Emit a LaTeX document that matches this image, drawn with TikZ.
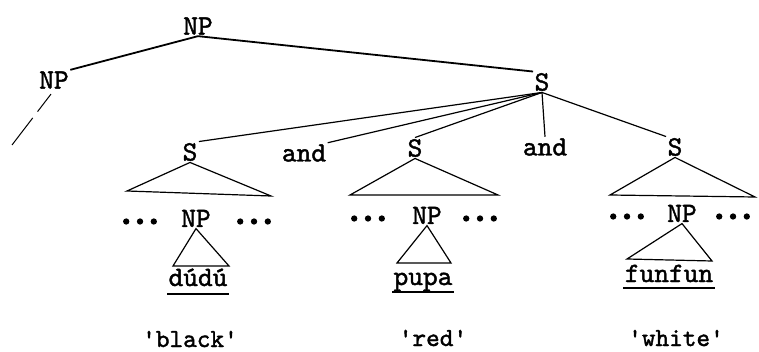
\documentclass[tikz,border=0pt]{standalone}
\usepackage{fontspec}
\newfontfamily\typew{lmmono10-regular}[Extension=.otf, FakeBold=1.5]
\newfontfamily\dotfont{lmmono10-regular}[Extension=.otf, FakeBold=3, LetterSpace=-18]
\begin{document}
\begin{tikzpicture}[x=1pt, y=-1pt, line width=1.2pt,
                    every node/.style={font=\typew\fontsize{28}{28}\selectfont, inner sep=1pt},
                    dots/.style={font=\dotfont\fontsize{40}{40}\selectfont, anchor=base, inner sep=0pt},
                    gloss/.style={font=\typew\fontsize{26}{26}\selectfont, anchor=base}]
        \useasboundingbox (0,0) rectangle (759,352);
        % Define nodes of the upper tree
        \node (NP0) at (198,26) {NP};
        \node (NP1) at (54,80) {NP};
        \node (S0) at (542,82) {S};
        \node (S1) at (190,152) {S};
        \node (and1) at (304,153) {and};
        \node (S2) at (415,148) {S};
        \node (and2) at (545,147) {and};
        \node (S3) at (675,147) {S};
        \coordinate (cut) at (12,145);

        % Define the rows under each S
        \node[dots] (La) at (140,224) {...};
        \node[anchor=base] (NPa) at (196,227) {NP};
        \node[dots] (Ra) at (254,224) {...};
        \node[dots] (Lb) at (368,221) {...};
        \node[anchor=base] (NPb) at (427,224) {NP};
        \node[dots] (Rb) at (480,221) {...};
        \node[dots] (Lc) at (627,219) {...};
        \node[anchor=base] (NPc) at (682,222) {NP};
        \node[dots] (Rc) at (733,219) {...};

        % Define words and glosses
        \node[anchor=base] (Wa) at (198,286) {dúdú};
        \node[anchor=base] (Wb) at (423,285) {pupa};
        \node[anchor=base] (Wc) at (669,282) {funfun};
        \node[gloss] (Ga) at (190,347) {\textquotesingle black\textquotesingle};
        \node[gloss] (Gb) at (433,346) {\textquotesingle red\textquotesingle};
        \node[gloss] (Gc) at (676,346) {\textquotesingle white\textquotesingle};

        % Define corners of the triangles
        \coordinate (Ta1) at (127,191);
        \coordinate (Ta2) at (271,196);
        \coordinate (Tb1) at (350,195);
        \coordinate (Tb2) at (498,195);
        \coordinate (Tc1) at (610,195);
        \coordinate (Tc2) at (755,197);
        \coordinate (Ua1) at (173,266);
        \coordinate (Ua2) at (229,266);
        \coordinate (Ub1) at (397,263);
        \coordinate (Ub2) at (451,263);
        \coordinate (Uc1) at (627,259);
        \coordinate (Uc2) at (712,261);

        % Define connections
        \draw[line width=1.8pt] (NP0.south) -- (NP1.north east);
        \draw[line width=1.8pt] (NP0.south) -- (S0.north west);
        \draw[line width=1pt, dash pattern=on 22pt off 8pt on 40pt off 8pt, shorten <=5pt] (NP1.south) -- (cut);
        \draw (S0.south) -- (S1.north east);
        \draw (S0.south) -- (and1.north east);
        \draw (S0.south) -- (S2.north);
        \draw (S0.south) -- (and2.north);
        \draw (S0.south) -- (S3.north west);

        % Triangles
        \draw (S1.south) -- (Ta1) -- (Ta2) -- cycle;
        \draw (S2.south) -- (Tb1) -- (Tb2) -- cycle;
        \draw (S3.south) -- (Tc1) -- (Tc2) -- cycle;
        \draw (NPa.south) -- (Ua1) -- (Ua2) -- cycle;
        \draw (NPb.south) -- (Ub1) -- (Ub2) -- cycle;
        \draw (NPc.south) -- (Uc1) -- (Uc2) -- cycle;

        % Underlines
        \draw[line width=2.5pt] ([yshift=-8pt]Wa.base west) -- ([yshift=-8pt]Wa.base east);
        \draw[line width=2.5pt] ([yshift=-7pt]Wb.base west) -- ([yshift=-7pt]Wb.base east);
        \draw[line width=2.5pt] ([yshift=-6pt]Wc.base west) -- ([yshift=-6pt]Wc.base east);

    \end{tikzpicture}
\end{document}
